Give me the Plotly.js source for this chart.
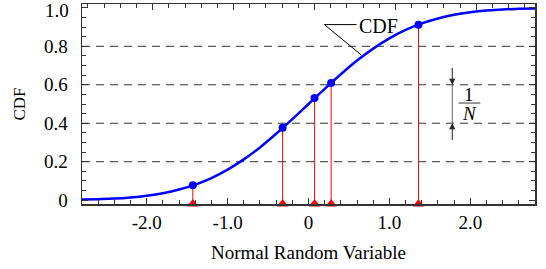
<!DOCTYPE html>
<html><head><meta charset="utf-8">
<script src="https://cdn.plot.ly/plotly-3.0.1.min.js"></script>
<style>html,body{margin:0;padding:0;background:#fff}#c{width:546px;height:269px}</style>
</head><body><div id="c"></div>
<script>
// Curve (CDF values)
const curveX = [-2.8,-2.6,-2.4,-2.2,-2.0,-1.8,-1.6,-1.4,-1.2,-1.0,-0.8,-0.6,-0.4,-0.2,0.0,0.2,0.4,0.6,0.8,1.0,1.2,1.4,1.6,1.8,2.0,2.2,2.4,2.6,2.8];
const curveY = [0.003,0.005,0.008,0.014,0.023,0.036,0.055,0.081,0.115,0.159,0.212,0.274,0.345,0.421,0.500,0.579,0.655,0.726,0.788,0.841,0.885,0.919,0.945,0.964,0.977,0.986,0.992,0.995,0.997];
// Sample points
const sampleX = [-1.43,-0.32,0.075,0.28,1.36];
const sampleY = [0.078,0.376,0.531,0.609,0.912];
// Tick labels
const xTickVals = [-2,-1,0,1,2];
const xTickText = ["-2.0","-1.0","0","1.0","2.0"];
const yTickVals = [0,0.2,0.4,0.6,0.8,1.0];
const yTickText = ["0","0.2","0.4","0.6","0.8",""];
const yTopLabel = "1.0";
const gridLevels = [0.2,0.4,0.6,0.8];

const FONT = "Liberation Serif";
const AX = "#333";

const traces = [];
// red stems
const stemX = [], stemY = [];
sampleX.forEach((x,i)=>{ stemX.push(x,x,null); stemY.push(sampleY[i],-0.02,null); });
traces.push({x:stemX,y:stemY,mode:'lines',line:{color:'#ff0000',width:1},hoverinfo:'skip'});
// curve
traces.push({x:curveX,y:curveY,mode:'lines',line:{color:'#0000ff',width:2.5,shape:'spline'},hoverinfo:'skip'});
// points
traces.push({x:sampleX,y:sampleY,mode:'markers',marker:{color:'#0000ff',size:8},hoverinfo:'skip'});
// triangles
traces.push({x:sampleX,y:sampleX.map(()=>-0.02),mode:'markers',cliponaxis:false,
  marker:{color:'#ff0000',size:10,symbol:'triangle-up'},hoverinfo:'skip'});

const shapes = gridLevels.map(v=>({type:'line',xref:'paper',x0:0,x1:1,yref:'y',y0:v,y1:v,
  line:{color:'#333',width:1,dash:'8px,6px'},layer:'below'}));
shapes.push({type:'path',xref:'x',yref:'y',path:'M 0.594,0.913 L 0.196,0.913 L 0.65,0.756',line:{color:'#000',width:1}});
shapes.push({type:'line',xref:'x',yref:'y',x0:1.777,x1:1.777,y0:0.4,y1:0.6,line:{color:'#666',width:1}});
shapes.push({type:'line',xref:'x',yref:'y',x0:1.855,x1:2.124,y0:0.505,y1:0.505,line:{color:'#333',width:1}});

const annotations = [
  {x:0.864,y:0.904,xref:'x',yref:'y',text:'CDF',showarrow:false,font:{family:FONT,size:20,color:'#000'}},
  {x:1.777,y:0.6,ax:1.777,ay:0.696,axref:'x',ayref:'y',xref:'x',yref:'y',text:'',showarrow:true,arrowhead:2,arrowsize:1.2,arrowwidth:1,arrowcolor:'#222'},
  {x:1.777,y:0.4,ax:1.777,ay:0.305,axref:'x',ayref:'y',xref:'x',yref:'y',text:'',showarrow:true,arrowhead:2,arrowsize:1.2,arrowwidth:1,arrowcolor:'#222'},
  {x:1.99,y:0.548,xref:'x',yref:'y',text:'1',showarrow:false,font:{family:FONT,size:19,color:'#000'}},
  {x:1.99,y:0.452,xref:'x',yref:'y',text:'<i>N</i>',showarrow:false,font:{family:FONT,size:19,color:'#000'}},
  {x:0,y:1.0,xref:'paper',yref:'y',xanchor:'right',yanchor:'middle',xshift:-11,yshift:-3,text:yTopLabel,showarrow:false,
    font:{family:FONT,size:19,color:'#000'}}
];

const layout = {
  width:546,height:269,margin:{l:82,r:11,t:4,b:65},
  paper_bgcolor:'#fff',plot_bgcolor:'#fff',showlegend:false,
  font:{family:FONT,size:19,color:'#000'},
  xaxis:{range:[-2.8,2.8],showgrid:false,zeroline:false,showline:true,linecolor:AX,linewidth:1.5,mirror:false,
    tickmode:'array',tickvals:xTickVals,ticktext:xTickText,ticks:'inside',ticklen:6,tickcolor:AX,tickwidth:1,
    minor:{dtick:0.2,tick0:0,ticks:'inside',ticklen:4,tickcolor:AX,showgrid:false},
    tickfont:{family:FONT,size:19,color:'#000'},ticklabelstandoff:1,
    title:{text:'Normal Random Variable',font:{family:FONT,size:19,color:'#000'},standoff:13}},
  xaxis2:{overlaying:'x',side:'top',range:[-2.874,2.726],showgrid:false,zeroline:false,showline:true,linecolor:AX,linewidth:1.5,
    tickmode:'linear',dtick:1,tick0:0,ticks:'inside',ticklen:6,tickcolor:AX,showticklabels:false,
    minor:{dtick:0.2,tick0:0,ticks:'inside',ticklen:4,tickcolor:AX,showgrid:false}},
  yaxis:{range:[-0.02,1.02],showgrid:false,zeroline:false,showline:true,linecolor:AX,linewidth:1.5,mirror:'ticks',
    tickmode:'array',tickvals:yTickVals,ticktext:yTickText,ticks:'inside',ticklen:6,tickcolor:AX,tickwidth:1,
    minor:{dtick:0.05,tick0:0,ticks:'inside',ticklen:4,tickcolor:AX,showgrid:false},
    tickfont:{family:FONT,size:19,color:'#000'},ticklabelstandoff:9,ticklabeloverflow:'allow',
    title:{text:'CDF',font:{family:FONT,size:17,color:'#000'},standoff:14}},
  shapes:shapes,annotations:annotations
};
traces.push({x:[0],y:[0.5],xaxis:'x2',mode:'markers',marker:{opacity:0},hoverinfo:'skip'});
Plotly.newPlot('c',traces,layout,{displayModeBar:false,staticPlot:true});
</script></body></html>
